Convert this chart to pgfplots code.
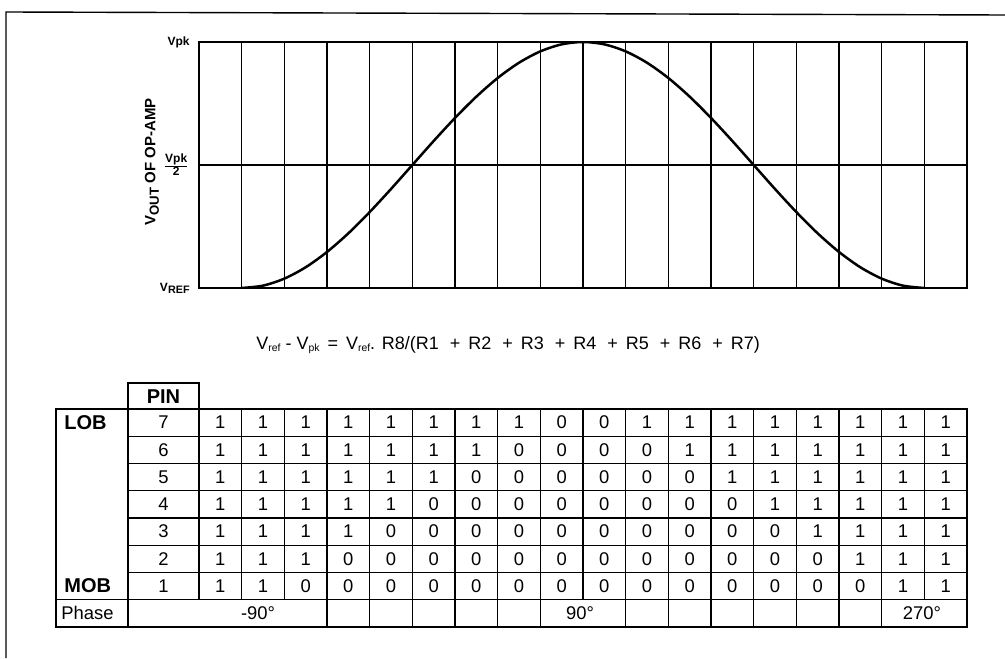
\documentclass[border=0pt]{standalone}
\usepackage{fontspec}
\setmainfont{Liberation Sans}
\usepackage{pgfplots}
\pgfplotsset{compat=1.18}

% DAC bit patterns, one row per pin (7 = LOB ... 1 = MOB), 18 steps each
\def\rowG{1,1,1,1,1,1,1,1,0,0,1,1,1,1,1,1,1,1}
\def\rowF{1,1,1,1,1,1,1,0,0,0,0,1,1,1,1,1,1,1}
\def\rowE{1,1,1,1,1,1,0,0,0,0,0,0,1,1,1,1,1,1}
\def\rowD{1,1,1,1,1,0,0,0,0,0,0,0,0,1,1,1,1,1}
\def\rowC{1,1,1,1,0,0,0,0,0,0,0,0,0,0,1,1,1,1}
\def\rowB{1,1,1,0,0,0,0,0,0,0,0,0,0,0,0,1,1,1}
\def\rowA{1,1,0,0,0,0,0,0,0,0,0,0,0,0,0,0,1,1}

\newcommand\sub[1]{\raisebox{-.3ex}{\fontsize{5.2}{5}\selectfont #1}}
\newcommand\plusR[1]{\hspace{5.5pt}+\hspace{4pt}R#1}

\begin{document}
\begin{tikzpicture}
\useasboundingbox (0,0) rectangle (502.5pt,-329pt);

\begin{axis}[
  at={(99.5pt,-21pt)}, anchor=north west,
  scale only axis, width=384pt, height=123pt,
  xmin=0, xmax=18, ymin=0, ymax=1,
  xtick={0,...,18}, xticklabels={},
  ytick={0,0.5,1},
  yticklabels={{V\raisebox{-.35ex}{\fontsize{5.4}{6}\selectfont REF}},
               {$\frac{\mbox{\bfseries Vpk}}{\mbox{\bfseries 2}}$},
               {Vpk}},
  yticklabel style={font=\bfseries\fontsize{6}{7}\selectfont, inner xsep=0pt, xshift=-4.5pt},
  major tick length=0pt,
  xmajorgrids, ymajorgrids,
  x grid style={black, line width=0.6pt},
  y grid style={black, line width=1pt},
  axis line style={black, line width=1pt},
]
\addplot[black, line width=1.25pt, smooth] coordinates {
  (1,0) (1.5,0.0096) (2,0.0381) (2.5,0.0843) (3,0.1465) (3.5,0.2222)
  (4,0.3087) (4.5,0.4025) (5,0.5) (5.5,0.5976) (6,0.6913) (6.5,0.7778)
  (7,0.8536) (7.5,0.9157) (8,0.9619) (8.5,0.9904) (9,1)
  (9.5,0.9904) (10,0.9619) (10.5,0.9157) (11,0.8536) (11.5,0.7778)
  (12,0.6913) (12.5,0.5976) (13,0.5) (13.5,0.4025) (14,0.3087)
  (14.5,0.2222) (15,0.1465) (15.5,0.0843) (16,0.0381) (16.5,0.0096) (17,0)
};
\end{axis}

\begin{scope}[x=0.5pt, y=-0.5pt]
  % page frame
  \draw[line width=0.7pt] (6,658) -- (6,12) -- (1005,15);

  % axis title
  \node[rotate=90, font=\bfseries\fontsize{7.5}{9}\selectfont] at (152,162)
    {V\raisebox{-.45ex}{\fontsize{6.6}{7}\selectfont OUT} OF OP-AMP};

  % transfer equation
  \node[font=\fontsize{9}{10}\selectfont, anchor=west, inner sep=0pt] at (256,345)
    {V\sub{ref} - V\sub{pk}\hspace{4pt}=\hspace{4pt}V\sub{ref}. R8/(R1\plusR{2}\plusR{3}\plusR{4}\plusR{5}\plusR{6}\plusR{7})};

  % table grid
  \begin{scope}[line width=0.7pt]
    \draw (128,383) rectangle (199,409);
    \draw (56,409) rectangle (967,627);
    \draw (128,409) -- (128,627);
    \draw (199,409) -- (199,599.75);
    \foreach \i in {1,...,17}
      \draw ({199+42.6667*\i},409) -- ({199+42.6667*\i},599.75);
    \foreach \k in {1,...,6}
      \draw (128,{409+27.25*\k}) -- (967,{409+27.25*\k});
    \draw (56,599.75) -- (967,599.75);
    \foreach \i in {3,4,5,6,7,8,10,11,12,13,14,15,16}
      \draw ({199+42.6667*\i},599.75) -- ({199+42.6667*\i},627);
  \end{scope}

  \node[font=\bfseries\fontsize{10}{12}\selectfont] at (163.5,396.5) {PIN};
  \node[font=\bfseries\fontsize{10}{12}\selectfont, anchor=west, inner sep=0pt] at (64,423) {LOB};
  \node[font=\bfseries\fontsize{10}{12}\selectfont, anchor=west, inner sep=0pt] at (64,586) {MOB};

  \begin{scope}[font=\fontsize{9.2}{11}\selectfont]
    \foreach \pin/\bits [count=\r from 0] in {7/\rowG,6/\rowF,5/\rowE,4/\rowD,3/\rowC,2/\rowB,1/\rowA} {
      \pgfmathsetmacro\yc{422.6+27.25*\r}
      \node at (163.5,\yc) {\pin};
      \edef\bitlist{\bits}
      \foreach \b [count=\c from 0] in \bitlist
        \node at ({199+42.6667*(\c+0.5)},\yc) {\b};
    }
    \node[anchor=west, inner sep=0pt] at (61,613.4) {Phase};
    \node at (258,613.4) {-90°};
    \node at (580,613.4) {90°};
    \node at (922,613.4) {270°};
  \end{scope}
\end{scope}
\end{tikzpicture}
\end{document}
